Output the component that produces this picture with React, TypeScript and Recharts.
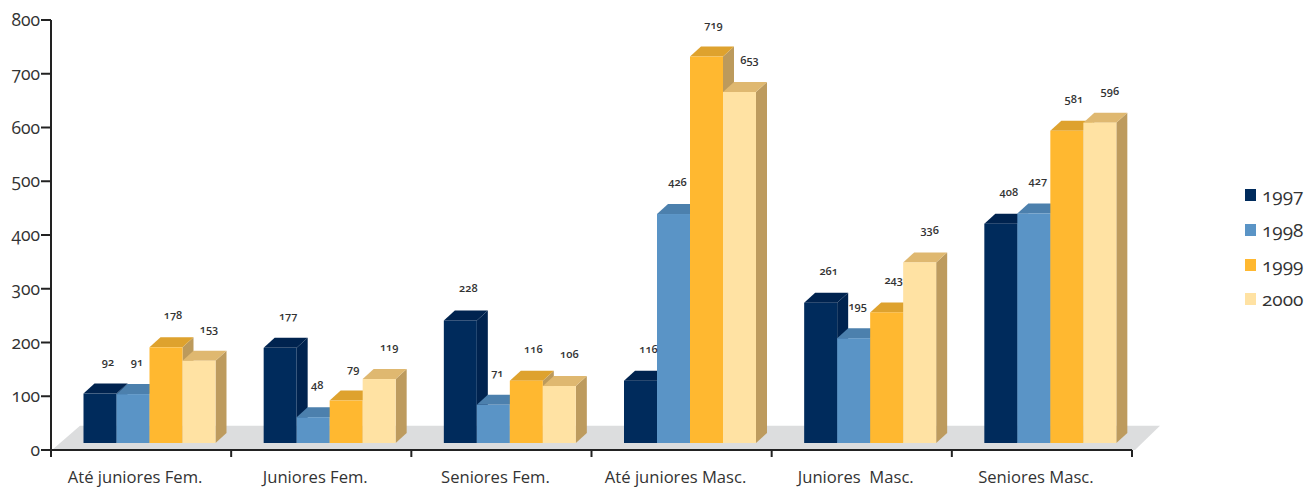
import React from 'react';
import { BarChart, Bar, XAxis, YAxis, ReferenceArea, LabelList, Legend } from 'recharts';

const categories = ['Até juniores Fem.', 'Juniores Fem.', 'Seniores Fem.', 'Até juniores Masc.', 'Juniores\u00a0 Masc.', 'Seniores Masc.'];
const values1997 = [92, 177, 228, 116, 261, 408];
const values1998 = [91, 48, 71, 426, 195, 427];
const values1999 = [178, 79, 116, 719, 243, 581];
const values2000 = [153, 119, 106, 653, 336, 596];
const yTicks = [0, 100, 200, 300, 400, 500, 600, 700, 800];

const series = [
  { key: 'y1997', name: '1997', values: values1997, front: '#002b5c', top: '#00234f', side: '#00234f', labelDx: 8 },
  { key: 'y1998', name: '1998', values: values1998, front: '#5a94c6', top: '#4c80ad', side: '#4c80ad', labelDx: 4 },
  { key: 'y1999', name: '1999', values: values1999, front: '#ffb830', top: '#dea22e', side: '#bc9a5c', labelDx: 7 },
  { key: 'y2000', name: '2000', values: values2000, front: '#ffe2a3', top: '#dfb870', side: '#bd9b5e', labelDx: 10 },
];

const data = categories.map((name, i) => {
  const row: Record<string, string | number> = { name };
  series.forEach((s) => {
    row[s.key] = s.values[i];
  });
  return row;
});

const FONT = '"Open Sans", sans-serif';
const OLD_NUMS = { fontVariantNumeric: 'oldstyle-nums', fontFeatureSettings: '"onum"' };
const AXIS_COLOR = '#222';
const SHIFT_X = 8.5;
const LIFT = 7;
const DEPTH_X = 11;
const DEPTH_Y = 10;

function Bar3D(props: any) {
  const { x, y, width, height, front, top, side } = props;
  const l = x + SHIFT_X;
  const r = l + width;
  const t = y - LIFT;
  const b = t + height;
  return (
    <g>
      <polygon points={`${r},${t} ${r + DEPTH_X},${t - DEPTH_Y} ${r + DEPTH_X},${b - DEPTH_Y} ${r},${b}`} fill={side} />
      <polygon points={`${l},${t} ${l + DEPTH_X},${t - DEPTH_Y} ${r + DEPTH_X},${t - DEPTH_Y} ${r},${t}`} fill={top} />
      <rect x={l} y={t} width={width} height={height} fill={front} />
    </g>
  );
}

function Floor(props: any) {
  const { x, y, width, height } = props;
  const b = y + height;
  return (
    <polygon
      points={`${x + 1},${b} ${x + 29},${y} ${x + width + 28},${y} ${x + width + 3},${b}`}
      fill="#dcddde"
    />
  );
}

function ValueLabel(props: any) {
  const { x, y, width, value, labelDx } = props;
  return (
    <text
      x={x + width / 2 + SHIFT_X + labelDx}
      y={y - LIFT - 28}
      textAnchor="middle"
      fontFamily={FONT}
      fontSize={11}
      fontWeight={600}
      fill="#333"
      style={OLD_NUMS}
    >
      {value}
    </text>
  );
}

// tick marks sit on the category boundaries, not the centres
function CategoryTick(props: any) {
  const { x, y, index, payload } = props;
  const half = payload.offset;
  return (
    <g>
      <line x1={x - half} x2={x - half} y1={y} y2={y + 7} stroke={AXIS_COLOR} strokeWidth={2} />
      {index === categories.length - 1 && (
        <line x1={x + half} x2={x + half} y1={y} y2={y + 7} stroke={AXIS_COLOR} strokeWidth={2} />
      )}
      <text x={x - 6} y={y + 33} textAnchor="middle" fill="#333" fontFamily={FONT} fontSize={16.6}>
        {payload.value}
      </text>
    </g>
  );
}

function LegendList() {
  return (
    <div style={{ fontFamily: FONT, fontSize: 19, color: '#333', ...OLD_NUMS }}>
      {series.map((s) => (
        <div key={s.key} style={{ display: 'flex', alignItems: 'center', height: 34.7 }}>
          <span style={{ width: 11, height: 12, background: s.front, marginRight: 6 }} />
          <span>{s.name}</span>
        </div>
      ))}
    </div>
  );
}

export default function App() {
  return (
    <div style={{ position: 'absolute', left: 0, top: 0, width: 1305, height: 487, background: '#fff' }}>
      <BarChart
        width={1305}
        height={487}
        data={data}
        barSize={33}
        barGap={0}
        margin={{ top: 20, right: 113, left: 0, bottom: 0 }}
      >
        <ReferenceArea y1={0} y2={45} shape={<Floor />} ifOverflow="visible" />
        <XAxis
          dataKey="name"
          height={37}
          interval={0}
          tickLine={false}
          tickSize={0}
          tickMargin={0}
          axisLine={{ stroke: AXIS_COLOR, strokeWidth: 2 }}
          tick={<CategoryTick />}
        />
        <YAxis
          width={51}
          domain={[0, 800]}
          ticks={yTicks}
          interval={0}
          tickSize={10}
          tickMargin={1}
          axisLine={{ stroke: AXIS_COLOR, strokeWidth: 2 }}
          tickLine={{ stroke: AXIS_COLOR, strokeWidth: 2 }}
          tick={{ fill: '#333', fontFamily: FONT, fontSize: 17.5, style: OLD_NUMS }}
        />
        <Legend
          layout="vertical"
          align="right"
          verticalAlign="top"
          content={<LegendList />}
          wrapperStyle={{ position: 'absolute', left: 1245, top: 178, width: 60 }}
        />
        {series.map((s) => (
          <Bar
            key={s.key}
            dataKey={s.key}
            name={s.name}
            fill={s.front}
            isAnimationActive={false}
            shape={<Bar3D front={s.front} top={s.top} side={s.side} />}
          >
            <LabelList dataKey={s.key} content={<ValueLabel labelDx={s.labelDx} />} />
          </Bar>
        ))}
      </BarChart>
    </div>
  );
}
